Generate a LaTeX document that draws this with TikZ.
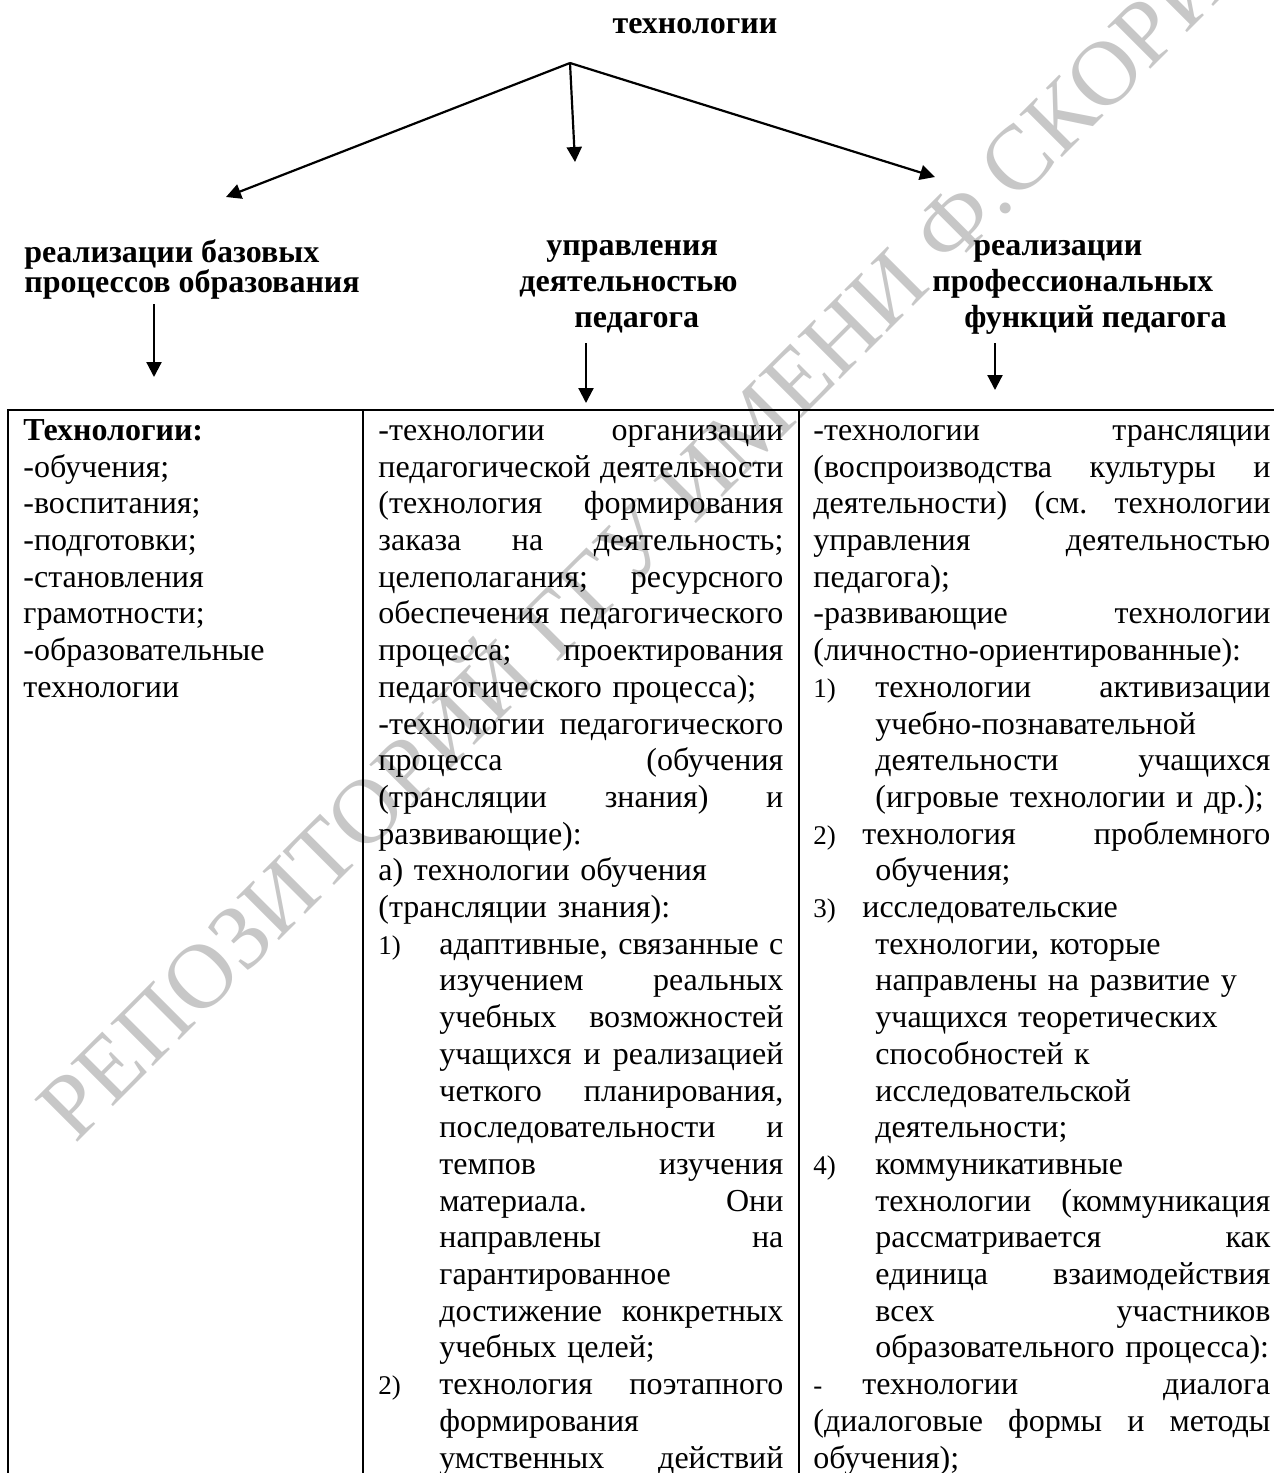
\documentclass[tikz,border=0pt]{standalone}
\usepackage{fontspec}
\setmainfont{Liberation Serif}
\usepackage{xcolor}
\usepackage{tikz}
\usetikzlibrary{arrows.meta}

\newcommand{\fillsp}{\spaceskip=.25em plus 1fil\relax}
\newcommand{\jrow}[2][0pt]{\hspace*{#1}\makebox[\dimexpr\hsize-#1\relax][s]{\fillsp #2}\\}
\newcommand{\prow}[2][0pt]{\hspace*{#1}#2\\}
\newcommand{\numfont}{\fontsize{13.5}{18.35}\selectfont}
\newcommand{\nrow}[3][0pt]{\makebox[#1][l]{\numfont #2}\makebox[\dimexpr\hsize-#1\relax][s]{\fillsp #3}\\}
\newcommand{\nprow}[3][0pt]{\makebox[#1][l]{\numfont #2}#3\\}

\begin{document}
\begin{tikzpicture}[x=0.5pt,y=-0.5pt,
	link/.style={-{Triangle[length=7.5pt,width=7.5pt]},line width=1.1pt},
	headtext/.style={font=\bfseries\fontsize{16}{18}\selectfont,inner sep=0pt,align=left,anchor=north west},
	colbox/.style={font=\fontsize{16}{18.35}\selectfont\frenchspacing,inner sep=0pt,align=left,anchor=north west},
	wmark/.style={font=\fontsize{46}{46}\selectfont,text=black!22,inner sep=0pt,anchor=base west,rotate=45}]
	\fill[white] (0,0) rectangle (1274,1473);
	\useasboundingbox (0,0) rectangle (1274,1473);
	\node[wmark] (wm) at (75,1145) {РЕПОЗИТОРИЙ ГГУ ИМЕНИ Ф.СКОРИНЫ};

	\node[font=\bfseries\fontsize{16}{18}\selectfont,inner sep=0pt,anchor=base] (title) at (695,33) {технологии};
	\node[headtext,font=\bfseries\fontsize{16}{15}\selectfont] (baseproc) at (24,238) {\rule{0pt}{12pt}реализации базовых\\процессов образования};
	\node[headtext] (manage) at (519,231) {\rule{0pt}{12pt}\hspace*{13.5pt}управления\\деятельностью\\\hspace*{27.5pt}педагога};
	\node[headtext] (profunc) at (932,231) {\rule{0pt}{12pt}\hspace*{20.5pt}реализации\\профессиональных\\\hspace*{16pt}функций педагога};

	\coordinate (top) at (570,63);
	\coordinate (endL) at (226,197);
	\coordinate (endM) at (575,162);
	\coordinate (endR) at (935,177);
	\draw[link] (top) -- (endL);
	\draw[link] (top) -- (endM);
	\draw[link] (top) -- (endR);
	\coordinate (startA) at (154,304);
	\coordinate (stopA) at (154,377);
	\coordinate (startB) at (586,343);
	\coordinate (stopB) at (586,403);
	\coordinate (startC) at (995,343);
	\coordinate (stopC) at (995,390);
	\draw[link] (startA) -- (stopA);
	\draw[link] (startB) -- (stopB);
	\draw[link] (startC) -- (stopC);

	\draw[line width=1pt] (8,1473) -- (8,410) -- (1274,410);
	\draw[line width=1pt] (363,410) -- (363,1473);
	\draw[line width=1pt] (799,410) -- (799,1473);

	\node[colbox,text width=165pt] (colA) at (23,416) {\rule{0pt}{12pt}%
		\prow{\textbf{Технологии:}}
		\prow{-обучения;}
		\prow{-воспитания;}
		\prow{-подготовки;}
		\prow{-становления}
		\prow{грамотности;}
		\prow{-образовательные}
		\prow{технологии}};
	\node[colbox,text width=202.5pt] (colB) at (378,416) {\rule{0pt}{12pt}%
		\jrow{-технологии организации}
		\jrow{педагогической деятельности}
		\jrow{(технология формирования}
		\jrow{заказа на деятельность;}
		\jrow{целеполагания; ресурсного}
		\jrow{обеспечения педагогического}
		\jrow{процесса; проектирования}
		\prow{педагогического процесса);}
		\jrow{-технологии педагогического}
		\jrow{процесса (обучения}
		\jrow{(трансляции знания) и}
		\prow{развивающие):}
		\prow{а) технологии обучения}
		\prow{(трансляции знания):}
		\nrow[30.5pt]{1)}{адаптивные, связанные с}
		\jrow[30.5pt]{изучением реальных}
		\jrow[30.5pt]{учебных возможностей}
		\jrow[30.5pt]{учащихся и реализацией}
		\jrow[30.5pt]{четкого планирования,}
		\jrow[30.5pt]{последовательности и}
		\jrow[30.5pt]{темпов изучения}
		\jrow[30.5pt]{материала. Они}
		\jrow[30.5pt]{направлены на}
		\prow[30.5pt]{гарантированное}
		\jrow[30.5pt]{достижение конкретных}
		\prow[30.5pt]{учебных целей;}
		\nrow[30.5pt]{2)}{технология поэтапного}
		\prow[30.5pt]{формирования}
		\jrow[30.5pt]{умственных действий}};
	\node[colbox,text width=228.5pt] (colC) at (813,416) {\rule{0pt}{12pt}%
		\jrow{-технологии трансляции}
		\jrow{(воспроизводства культуры и}
		\jrow{деятельности) (см. технологии}
		\jrow{управления деятельностью}
		\prow{педагога);}
		\jrow{-развивающие технологии}
		\prow{(личностно-ориентированные):}
		\nrow[31pt]{1)}{технологии активизации}
		\prow[31pt]{учебно-познавательной}
		\jrow[31pt]{деятельности учащихся}
		\prow[31pt]{(игровые технологии и др.);}
		\nrow[24.5pt]{2)}{технология проблемного}
		\prow[31pt]{обучения;}
		\nprow[24.5pt]{3)}{исследовательские}
		\prow[31pt]{технологии, которые}
		\prow[31pt]{направлены на развитие у}
		\prow[31pt]{учащихся теоретических}
		\prow[31pt]{способностей к}
		\prow[31pt]{исследовательской}
		\prow[31pt]{деятельности;}
		\nprow[31pt]{4)}{коммуникативные}
		\jrow[31pt]{технологии (коммуникация}
		\jrow[31pt]{рассматривается как}
		\jrow[31pt]{единица взаимодействия}
		\jrow[31pt]{всех участников}
		\prow[31pt]{образовательного процесса):}
		\nrow[24.5pt]{-}{технологии диалога}
		\jrow{(диалоговые формы и методы}
		\prow{обучения);}};
\end{tikzpicture}
\end{document}
